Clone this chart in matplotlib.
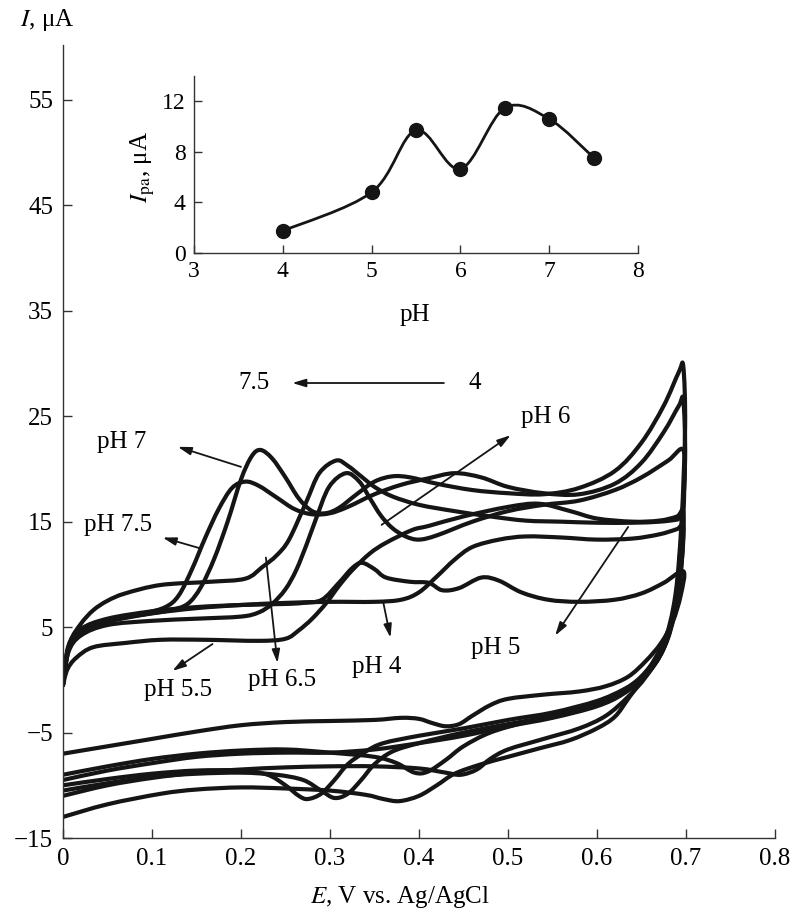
import numpy as np
import matplotlib
matplotlib.use("Agg")
import matplotlib.pyplot as plt
from matplotlib.path import Path
from matplotlib.patches import PathPatch

plt.rcParams["font.family"] = ["Liberation Serif", "DejaVu Serif"]
plt.rcParams["mathtext.fontset"] = "stix"

# cyclic voltammograms, (E, I) pairs
# anodic sweep 0 -> 0.697 V, then cathodic sweep back to 0 V
ph7_anodic = [(0.0, -0.5), (0.006, 3.0), (0.02, 4.6), (0.05, 5.6), (0.09, 6.2), (0.12, 6.6),
              (0.14, 7.2), (0.155, 8.8), (0.17, 11.5), (0.185, 15.0), (0.2, 19.0), (0.212, 21.2),
              (0.222, 21.8), (0.235, 21.0), (0.25, 19.2), (0.265, 17.2), (0.28, 16.0), (0.295, 15.8),
              (0.31, 16.3), (0.33, 17.6), (0.35, 18.8), (0.37, 19.3), (0.39, 19.2), (0.42, 18.6),
              (0.46, 18.0), (0.5, 17.7), (0.54, 17.6), (0.58, 18.2), (0.62, 19.8), (0.65, 22.5),
              (0.675, 26.0), (0.692, 29.2), (0.697, 29.7)]
ph7_cathodic = [(0.699, 24.0), (0.695, 15.0), (0.688, 8.0), (0.675, 3.5), (0.655, 0.8), (0.63, -1.0),
                (0.6, -2.2), (0.56, -3.2), (0.52, -4.0), (0.48, -5.0), (0.45, -6.3), (0.43, -7.6),
                (0.41, -8.7), (0.395, -8.8), (0.375, -7.9), (0.35, -7.3), (0.3, -6.9), (0.25, -6.6),
                (0.2, -6.7), (0.15, -7.0), (0.1, -7.5), (0.05, -8.2), (0.0, -9.0)]

ph75_anodic = [(0.0, -0.5), (0.006, 3.2), (0.02, 4.8), (0.05, 5.7), (0.09, 6.3), (0.115, 6.9),
               (0.13, 8.0), (0.145, 10.5), (0.16, 13.5), (0.175, 16.2), (0.19, 18.2), (0.205, 18.8),
               (0.22, 18.4), (0.24, 17.3), (0.26, 16.2), (0.28, 15.7), (0.3, 15.8), (0.32, 16.4),
               (0.35, 17.6), (0.38, 18.5), (0.41, 19.1), (0.44, 19.6), (0.47, 19.2), (0.5, 18.3),
               (0.54, 17.7), (0.58, 17.6), (0.62, 18.6), (0.65, 20.6), (0.675, 23.5), (0.692, 26.0),
               (0.697, 26.5)]
ph75_cathodic = [(0.699, 21.0), (0.695, 14.0), (0.688, 7.5), (0.675, 3.2), (0.655, 0.5), (0.63, -1.3),
                 (0.6, -2.5), (0.55, -3.6), (0.5, -4.4), (0.45, -5.3), (0.4, -6.0), (0.35, -6.6),
                 (0.3, -6.9), (0.25, -6.9), (0.2, -7.0), (0.15, -7.3), (0.1, -7.9), (0.05, -8.6),
                 (0.0, -9.5)]

ph65_anodic = [(0.0, -0.3), (0.008, 3.5), (0.02, 5.3), (0.034, 6.6), (0.05, 7.5), (0.07, 8.2),
               (0.11, 9.0), (0.165, 9.3), (0.205, 9.6), (0.224, 10.7), (0.24, 11.8), (0.254, 13.3),
               (0.273, 16.8), (0.288, 19.6), (0.307, 20.8), (0.32, 20.3), (0.335, 19.3), (0.35, 18.3),
               (0.37, 17.4), (0.4, 16.6), (0.44, 16.0), (0.48, 15.5), (0.52, 15.1), (0.56, 15.0),
               (0.6, 14.9), (0.64, 14.9), (0.67, 15.0), (0.69, 15.2), (0.697, 15.4)]
ph65_cathodic = [(0.695, 11.0), (0.69, 7.5), (0.68, 4.0), (0.665, 1.5), (0.65, 0.2), (0.63, -0.9),
                 (0.6, -2.0), (0.55, -3.1), (0.5, -3.8), (0.45, -4.6), (0.4, -5.3), (0.36, -6.0),
                 (0.34, -6.8), (0.32, -8.0), (0.305, -9.5), (0.29, -10.8), (0.275, -11.3),
                 (0.265, -11.0), (0.25, -10.0), (0.23, -9.0), (0.2, -8.6), (0.15, -8.6), (0.1, -8.9),
                 (0.05, -9.4), (0.0, -10.0)]

ph6_anodic = [(0.0, -0.5), (0.006, 2.6), (0.02, 4.2), (0.05, 5.2), (0.1, 5.6), (0.15, 5.8),
              (0.2, 6.0), (0.22, 6.4), (0.235, 7.2), (0.25, 8.6), (0.262, 10.4), (0.274, 12.9),
              (0.284, 15.2), (0.299, 18.3), (0.318, 19.6), (0.333, 18.8), (0.345, 17.2),
              (0.357, 15.6), (0.37, 14.4), (0.385, 13.6), (0.4, 13.3), (0.42, 13.7), (0.46, 15.0),
              (0.5, 16.0), (0.54, 16.6), (0.58, 17.0), (0.62, 18.0), (0.65, 19.2), (0.68, 20.8),
              (0.697, 21.8)]
ph6_cathodic = [(0.698, 18.0), (0.695, 13.0), (0.688, 7.0), (0.675, 3.0), (0.655, 0.5), (0.63, -1.0),
                (0.6, -2.2), (0.55, -3.4), (0.5, -4.2), (0.45, -5.0), (0.4, -6.0), (0.37, -6.8),
                (0.35, -8.0), (0.335, -9.5), (0.32, -10.8), (0.305, -11.2), (0.29, -10.5),
                (0.27, -9.5), (0.24, -9.0), (0.2, -8.8), (0.15, -8.9), (0.1, -9.2), (0.05, -9.8),
                (0.0, -10.5)]

ph55_anodic = [(0.0, -0.5), (0.005, 1.0), (0.015, 2.1), (0.034, 3.1), (0.07, 3.5), (0.11, 3.8),
               (0.16, 3.8), (0.22, 3.7), (0.25, 3.9), (0.265, 4.7), (0.28, 5.8), (0.296, 7.3),
               (0.31, 8.9), (0.325, 10.4), (0.345, 12.0), (0.363, 13.0), (0.392, 14.2),
               (0.411, 14.6), (0.45, 15.5), (0.5, 16.4), (0.535, 16.7), (0.57, 16.0), (0.6, 15.3),
               (0.64, 15.0), (0.67, 15.1), (0.69, 15.5), (0.697, 16.0)]
ph55_cathodic = [(0.695, 12.0), (0.69, 8.0), (0.68, 4.5), (0.665, 2.0), (0.65, 0.0), (0.635, -1.8),
                 (0.62, -3.5), (0.6, -4.6), (0.57, -5.7), (0.535, -6.5), (0.5, -7.3), (0.47, -8.0),
                 (0.44, -8.9), (0.42, -10.0), (0.4, -11.0), (0.378, -11.5), (0.36, -11.3),
                 (0.34, -10.9), (0.3, -10.5), (0.25, -10.3), (0.2, -10.2), (0.15, -10.4),
                 (0.11, -10.8), (0.05, -11.8), (0.0, -13.0)]

ph5_anodic = [(0.0, -0.5), (0.006, 2.8), (0.02, 4.5), (0.05, 5.5), (0.1, 6.3), (0.15, 6.8),
              (0.2, 7.1), (0.25, 7.3), (0.3, 7.4), (0.35, 7.4), (0.38, 7.6), (0.4, 8.3), (0.42, 9.8),
              (0.44, 11.4), (0.46, 12.6), (0.49, 13.3), (0.52, 13.6), (0.56, 13.5), (0.6, 13.3),
              (0.64, 13.4), (0.67, 13.8), (0.69, 14.3), (0.697, 14.6)]
ph5_cathodic = [(0.695, 11.0), (0.688, 7.0), (0.675, 3.0), (0.655, 0.3), (0.635, -1.6), (0.61, -3.4),
                (0.58, -4.6), (0.54, -5.6), (0.5, -6.6), (0.48, -7.5), (0.465, -8.5), (0.447, -9.0),
                (0.43, -8.8), (0.4, -8.4), (0.35, -8.2), (0.3, -8.2), (0.25, -8.3), (0.2, -8.5),
                (0.15, -8.8), (0.1, -9.3), (0.05, -10.0), (0.0, -11.0)]

ph4_anodic = [(0.0, -0.5), (0.006, 3.0), (0.02, 4.8), (0.05, 5.8), (0.1, 6.5), (0.15, 6.9),
              (0.2, 7.1), (0.25, 7.2), (0.27, 7.3), (0.291, 7.6), (0.31, 9.2), (0.325, 10.6),
              (0.336, 11.1), (0.35, 10.5), (0.363, 9.7), (0.39, 9.3), (0.411, 9.2), (0.426, 8.5),
              (0.445, 8.7), (0.47, 9.7), (0.49, 9.4), (0.515, 8.3), (0.545, 7.6), (0.58, 7.4),
              (0.62, 7.6), (0.65, 8.2), (0.675, 9.2), (0.697, 10.3)]
ph4_cathodic = [(0.694, 8.0), (0.685, 5.5), (0.672, 3.5), (0.655, 1.8), (0.635, 0.3), (0.61, -0.6),
                (0.58, -1.1), (0.54, -1.4), (0.5, -1.8), (0.48, -2.4), (0.46, -3.4), (0.445, -4.2),
                (0.43, -4.4), (0.415, -4.1), (0.4, -3.7), (0.38, -3.6), (0.35, -3.8), (0.3, -3.9),
                (0.25, -4.0), (0.2, -4.3), (0.15, -4.9), (0.1, -5.6), (0.05, -6.3), (0.0, -7.0)]

voltammograms = [ph7_anodic + ph7_cathodic, ph75_anodic + ph75_cathodic,
                 ph65_anodic + ph65_cathodic, ph6_anodic + ph6_cathodic,
                 ph55_anodic + ph55_cathodic, ph5_anodic + ph5_cathodic,
                 ph4_anodic + ph4_cathodic]

# inset: anodic peak current vs pH
inset_ph = [4, 5, 5.5, 6, 6.5, 7, 7.5]
inset_ipa = [1.75, 4.8, 9.7, 6.65, 11.47, 10.6, 7.55]

x_ticks = [0, 0.1, 0.2, 0.3, 0.4, 0.5, 0.6, 0.7, 0.8]
x_tick_labels = ["0", "0.1", "0.2", "0.3", "0.4", "0.5", "0.6", "0.7", "0.8"]
y_ticks = [-15, -5, 5, 15, 25, 35, 45, 55]


def smooth_path(points):
    # Catmull-Rom curve through the read points, drawn as bezier segments
    p = np.array(points, dtype=float)
    verts = [p[0]]
    codes = [Path.MOVETO]
    n = len(p)
    for i in range(n - 1):
        p0 = p[i - 1] if i > 0 else p[i]
        p1 = p[i]
        p2 = p[i + 1]
        p3 = p[i + 2] if i + 2 < n else p[i + 1]
        verts += [p1 + (p2 - p0) / 6, p2 - (p3 - p1) / 6, p2]
        codes += [Path.CURVE4] * 3
    return Path(verts, codes)


FS = 18
fig = plt.figure(figsize=(7.97, 9.17), dpi=100)
ax = fig.add_axes([0.079, 0.0861, 0.8934, 0.8648])

for curve in voltammograms:
    ax.add_patch(PathPatch(smooth_path(curve), fill=False, lw=3.0, ec="#151515",
                           joinstyle="round", capstyle="round"))

ax.set_xlim(0, 0.8)
ax.set_ylim(-15, 60.2)
ax.set_xticks(x_ticks)
ax.set_xticklabels(x_tick_labels)
ax.set_yticks(y_ticks)
ax.tick_params(direction="in", length=6.5, width=1, labelsize=FS, pad=7, color="#333")
for s in ["top", "right"]:
    ax.spines[s].set_visible(False)
for s in ["left", "bottom"]:
    ax.spines[s].set_linewidth(1.0)
    ax.spines[s].set_color("#333")

fig.text(0.059, 0.978, "$I$, μA", fontsize=FS, ha="center", va="center")
fig.text(0.502, 0.022, "$E$, V vs. Ag/AgCl", fontsize=FS, ha="center", va="center")

arrow = dict(arrowstyle="-|>,head_length=0.8,head_width=0.24", lw=1.3, color="#151515",
             shrinkA=0, shrinkB=0)

ax.text(0.215, 28.15, "7.5", fontsize=FS, ha="center", va="center")
ax.text(0.4625, 28.15, "4", fontsize=FS, ha="center", va="center")
ax.annotate("", xy=(0.2576, 28.15), xytext=(0.428, 28.15), arrowprops=arrow)

labels = [
    ("pH 7", (0.066, 22.55), (0.129, 22.1), (0.2, 20.2)),
    ("pH 7.5", (0.062, 14.7), (0.112, 13.5), (0.153, 12.5)),
    ("pH 5.5", (0.129, -1.0), (0.123, 0.85), (0.168, 3.4)),
    ("pH 6.5", (0.246, -0.05), (0.241, 1.6), (0.228, 11.6)),
    ("pH 4", (0.352, 1.2), (0.368, 4.0), (0.36, 7.3)),
    ("pH 5", (0.486, 3.0), (0.553, 4.2), (0.635, 14.5)),
    ("pH 6", (0.542, 24.9), (0.503, 23.2), (0.358, 14.7)),
]
for txt, pos, head, tail in labels:
    ax.text(pos[0], pos[1], txt, fontsize=FS, ha="center", va="center")
    ax.annotate("", xy=head, xytext=tail, arrowprops=arrow)

# inset
ax_in = fig.add_axes([0.2434, 0.7241, 0.5571, 0.193])
ax_in.add_patch(PathPatch(smooth_path(list(zip(inset_ph, inset_ipa))), fill=False, lw=2.0,
                          ec="#151515"))
ax_in.plot(inset_ph, inset_ipa, "o", ms=10, color="#151515", ls="none")
ax_in.set_xlim(3, 8)
ax_in.set_ylim(0, 14)
ax_in.set_xticks([3, 4, 5, 6, 7, 8])
ax_in.set_yticks([0, 4, 8, 12])
ax_in.tick_params(direction="in", length=6, width=1, labelsize=17, pad=6, color="#333")
for s in ["top", "right"]:
    ax_in.spines[s].set_visible(False)
for s in ["left", "bottom"]:
    ax_in.spines[s].set_linewidth(1.0)
    ax_in.spines[s].set_color("#333")
ax_in.patch.set_alpha(0)
ax_in.text(0.498, -0.35, "pH", fontsize=FS, ha="center", va="center", transform=ax_in.transAxes)
ax_in.text(-0.115, 0.486, "$I_{\\mathrm{pa}}$, μA", fontsize=FS, ha="center", va="center",
           rotation=90, transform=ax_in.transAxes)

fig.savefig("out.png", dpi=100)
